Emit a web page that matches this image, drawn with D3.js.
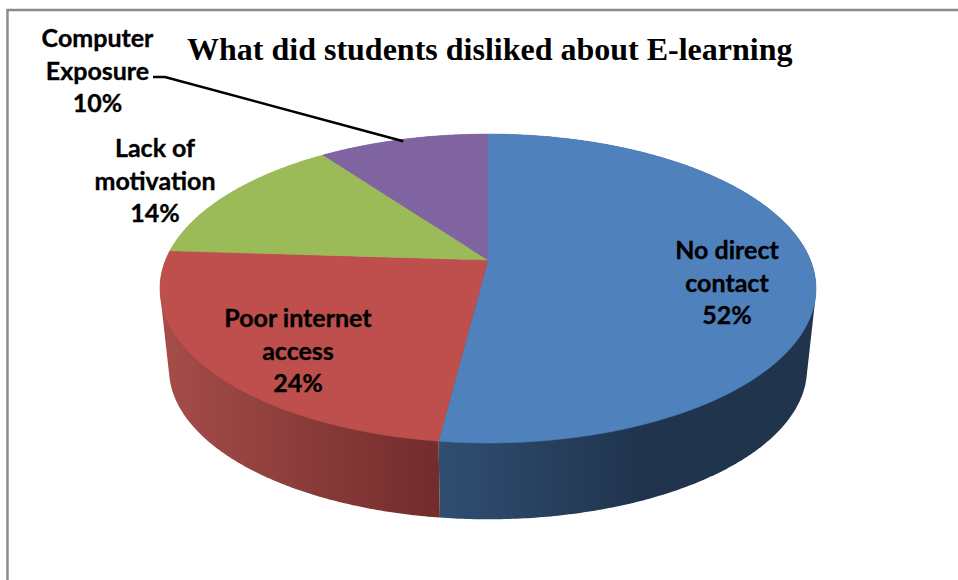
<!DOCTYPE html>
<html>
<head>
<meta charset="utf-8">
<script src="https://cdn.jsdelivr.net/npm/d3@7"></script>
<style>
  html, body { margin: 0; padding: 0; background: #fff; overflow: hidden; }
  .label { font-family: Lato, "Open Sans", sans-serif; font-weight: 700; font-size: 25px; fill: #000; stroke: #000; stroke-width: 0.35px; text-anchor: middle; }
  .title { font-family: "Liberation Serif", serif; font-weight: 700; font-size: 32px; fill: #000; }
</style>
</head>
<body>
<div id="vis"></div>
<script>
const width = 958;
const height = 580;

const categories = ["No direct contact", "Poor internet access", "Lack of motivation", "Computer Exposure"];
const values = [52, 24, 14, 10];
const labelLines = [["No direct", "contact", "52%"], ["Poor internet", "access", "24%"], ["Lack of", "motivation", "14%"], ["Computer", "Exposure", "10%"]];
const titleText = "What did students disliked about E-learning";

const topColors = ["#4f81bd", "#be4f4c", "#9bbb59", "#8064a2"];
const wallStops = [["#304e72", "#20344d"], ["#a64d49", "#712c2c"], ["#9bbb59", "#9bbb59"], ["#8064a2", "#8064a2"]];

// label centre x and first baseline
const labelX = [727, 298, 155, 97.5];
const labelY = [259, 327, 157, 47];
const lineGap = 32.7;

// the pie is tilted with perspective, so the apex is not the ellipse centre
const cx = 488;
const topY = 260;
const persp = -0.1845;
const topA = 322.4, topB = 149.2;
const baseA = 313.5, baseB = 145, baseY = 341.5;

function project(angle, a, b, y0) {
    const px = Math.sin(angle);
    const py = -Math.cos(angle);
    const w = 1 + persp * py;
    return [cx + a * px / w, y0 + b * py / w];
}
const topPoint = angle => project(angle, topA, topB, topY);
const basePoint = angle => project(angle, baseA, baseB, baseY);

const pie = d3.pie().sort(null).value(d => d);
const arcs = pie(values);

const svg = d3.select("#vis")
    .append("svg")
    .attr("width", width)
    .attr("height", height)
    .style("display", "block");

// frame
svg.append("path")
    .attr("d", `M7.5,${height}V10H${width}`)
    .attr("fill", "none")
    .attr("stroke", "#8a8a8a")
    .attr("stroke-width", 2.4);

const defs = svg.append("defs");
const line = d3.line();

function sampleAngles(a0, a1) {
    const n = Math.max(2, Math.ceil((a1 - a0) / 0.01));
    return d3.range(n + 1).map(i => a0 + (a1 - a0) * i / n);
}

// walls first, top surface covers whatever is at the back
arcs.forEach((d, i) => {
    const angles = sampleAngles(d.startAngle, d.endAngle);
    const hull = d3.polygonHull(angles.map(topPoint).concat(angles.map(basePoint)));
    const xs = hull.map(p => p[0]);
    const grad = defs.append("linearGradient")
        .attr("id", "wall" + i)
        .attr("gradientUnits", "userSpaceOnUse")
        .attr("x1", i === 0 ? 440 : d3.min(xs))
        .attr("x2", i === 0 ? 640 : d3.max(xs))
        .attr("y1", 0)
        .attr("y2", 0);
    grad.append("stop").attr("offset", 0).attr("stop-color", wallStops[i][0]);
    grad.append("stop").attr("offset", 1).attr("stop-color", wallStops[i][1]);
    svg.append("path")
        .attr("d", line(hull) + "Z")
        .attr("fill", `url(#wall${i})`);
});

arcs.forEach((d, i) => {
    const rim = sampleAngles(d.startAngle, d.endAngle).map(topPoint);
    svg.append("path")
        .attr("d", line([[cx, topY]].concat(rim)) + "Z")
        .attr("fill", topColors[i])
        .attr("stroke", topColors[i])
        .attr("stroke-width", 0.5);
});

// leader for the small slice
const leaderEnd = topPoint(d3.mean([arcs[3].startAngle, arcs[3].endAngle]));
svg.append("path")
    .attr("d", line([[153, 77], [165, 77], [leaderEnd[0], leaderEnd[1] + 2]]))
    .attr("fill", "none")
    .attr("stroke", "#000")
    .attr("stroke-width", 2.5);

categories.forEach((c, i) => {
    const t = svg.append("text")
        .attr("class", "label")
        .attr("aria-label", c);
    labelLines[i].forEach((s, j) => {
        t.append("tspan")
            .attr("x", labelX[i])
            .attr("y", labelY[i] + j * lineGap)
            .text(s);
    });
});

svg.append("text")
    .attr("class", "title")
    .attr("x", 187)
    .attr("y", 60)
    .text(titleText);
</script>
</body>
</html>
